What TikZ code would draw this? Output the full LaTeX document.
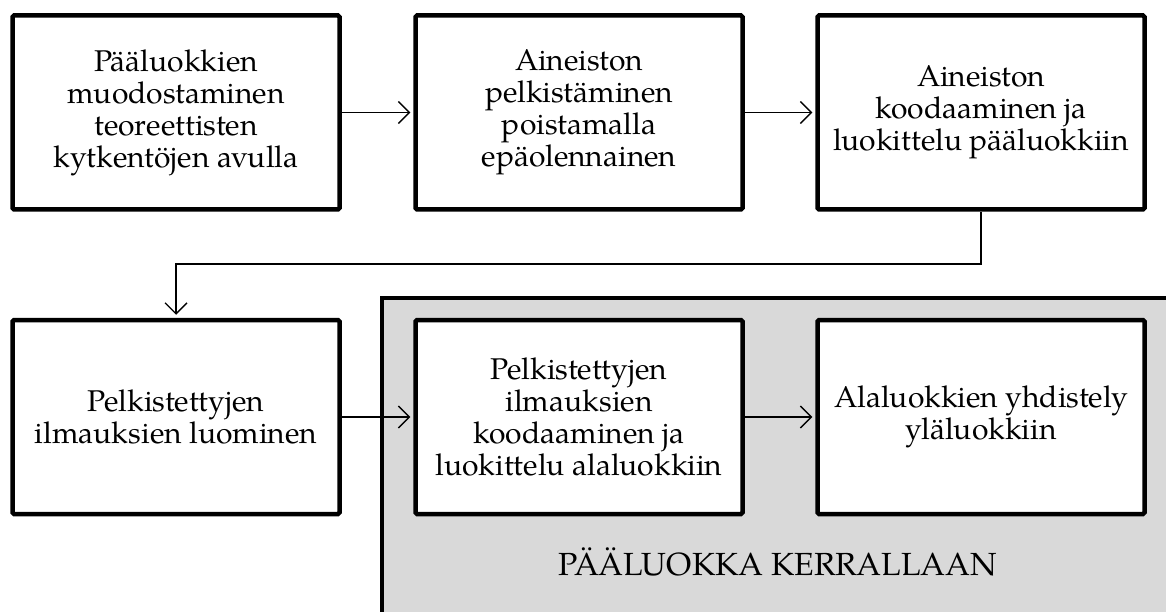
\documentclass[tikz,border=0pt]{standalone}
\usepackage{fontspec}
\setmainfont{TeX Gyre Pagella}
\usetikzlibrary{arrows.meta}
\definecolor{panelgray}{HTML}{D9D9D9}
\tikzset{
  stepbox/.style={draw=black, line width=4.5pt, fill=white, rounded corners=1.5pt,
    minimum width=327pt, minimum height=194pt, align=center, inner sep=0pt,
    font=\fontsize{30}{32}\selectfont},
  conn/.style={line width=1.3pt, -{Straight Barb[length=11pt,width=22pt,line width=1.3pt]}, shorten >=3pt},
  panel/.style={draw=black, line width=4pt, fill=panelgray},
  paneltext/.style={font=\fontsize{32}{36}\selectfont, inner sep=0pt}
}
\begin{document}
\begin{tikzpicture}[x=1pt,y=-1pt]
\useasboundingbox (0,0) rectangle (1166,612);
\begin{scope}
\clip (0,0) rectangle (1166,612);
\draw[panel] (382,298) rectangle (1190,640);
\end{scope}
\node[stepbox] (b1) at (176,112.5) {Pääluokkien\\muodostaminen\\teoreettisten\\kytkentöjen avulla};
\node[stepbox] (b2) at (579,112.5) {Aineiston\\pelkistäminen\\poistamalla\\epäolennainen};
\node[stepbox] (b3) at (981,112.5) {Aineiston\\koodaaminen ja\\luokittelu pääluokkiin};
\node[stepbox] (b4) at (176,417) {Pelkistettyjen\\ilmauksien luominen};
\node[stepbox] (b5) at (579,417) {Pelkistettyjen\\ilmauksien\\koodaaminen ja\\luokittelu alaluokkiin};
\node[stepbox] (b6) at (981,417) {Alaluokkien yhdistely\\yläluokkiin};
\node[paneltext] (pt) at (778,562) {PÄÄLUOKKA KERRALLAAN};
\coordinate (turn) at (0,264);
\draw[conn] (b1) -- (b2);
\draw[conn] (b2) -- (b3);
\draw[conn] (b3.south) -- (b3.south |- turn) -| (b4.north);
\draw[conn] (b4) -- (b5);
\draw[conn] (b5) -- (b6);
\end{tikzpicture}
\end{document}
